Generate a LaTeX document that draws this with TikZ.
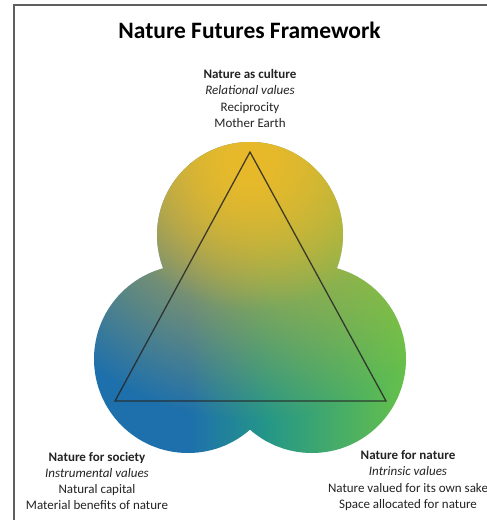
\documentclass[tikz,border=0pt]{standalone}
\usepackage{fontspec}
\setmainfont{Carlito}
\usetikzlibrary{fadings}
\definecolor{nblue}{RGB}{30,112,172}
\definecolor{nteal}{RGB}{36,150,136}
\definecolor{ngreen}{RGB}{104,194,72}
\definecolor{nyellow}{RGB}{232,186,42}
\definecolor{ntext}{RGB}{35,35,35}
\definecolor{nframe}{RGB}{95,95,95}
\tikzfading[name=yrad, inner color=transparent!0, outer color=transparent!100]
\tikzset{
  frameline/.style={draw=nframe, line width=2pt},
  triline/.style={draw=black!85, line width=1.3pt, line join=miter, opacity=0.85},
  title/.style={font=\fontsize{23.5}{28}\selectfont\bfseries, text=black, inner sep=0pt},
  label/.style={font=\fontsize{13}{16.3}\selectfont, text=ntext, align=center, inner sep=0pt}
}
\begin{document}
\begin{tikzpicture}[x=1pt,y=-1pt]
\useasboundingbox (0,0) rectangle (487,520);
\fill[white] (0,0) rectangle (487,520);
% frame
\coordinate (f1) at (13.5,521);
\coordinate (f2) at (13.5,5);
\coordinate (f3) at (488,5);
\draw[frameline] (f1) -- (f2) -- (f3);
% title
\node[title] (title) at (249.5,30) {Nature Futures Framework};
% coloured blob
\begin{scope}
  \clip (250,235) circle (93) (188,359) circle (94) (312,359) circle (94);
  \fill[nblue] (90,138) rectangle (191,458);
  \shade[left color=nblue, right color=nteal] (190,138) rectangle (266,458);
  \shade[left color=nteal, right color=ngreen] (265,138) rectangle (410,458);
  \coordinate (P0) at (250,160);
  \fill[nyellow, path fading=yrad] (P0) circle (150);
  \fill[nyellow, path fading=yrad] (P0) circle (260);
\end{scope}
% triangle
\coordinate (A) at (250,152);
\coordinate (B) at (115,401);
\coordinate (C) at (386,401);
\draw[triline] (A) -- (B) -- (C) -- cycle;
% labels
\node[label] (culture) at (250,98.5) {\textbf{Nature as culture}\\ \textit{Relational values}\\ Reciprocity\\ Mother Earth};
\node[label] (society) at (97,481) {\textbf{Nature for society}\\ \textit{Instrumental values}\\ Natural capital\\ Material benefits of nature};
\node[label] (nature) at (408,480.5) {\textbf{Nature for nature}\\ \textit{Intrinsic values}\\ Nature valued for its own sake\\ Space allocated for nature};
\end{tikzpicture}
\end{document}
